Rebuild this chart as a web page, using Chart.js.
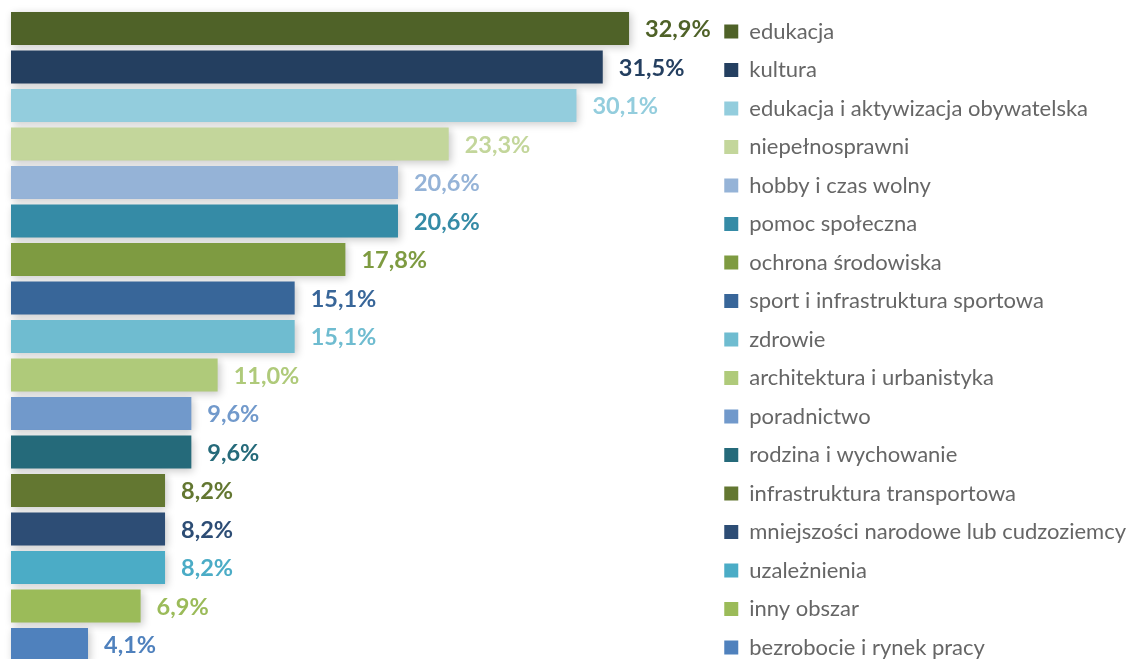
<!DOCTYPE html>
<html>
<head>
<meta charset="utf-8">
<script src="https://cdn.jsdelivr.net/npm/chart.js@4"></script>
<style>
  html, body { margin: 0; padding: 0; background: #fff; overflow: hidden; }
  #wrap { width: 1136px; height: 720px; }
</style>
</head>
<body>
<div id="wrap"><canvas id="chart" width="1136" height="720"></canvas></div>
<script>
const categories = [
    'edukacja',
    'kultura',
    'edukacja i aktywizacja obywatelska',
    'niepełnosprawni',
    'hobby i czas wolny',
    'pomoc społeczna',
    'ochrona środowiska',
    'sport i infrastruktura sportowa',
    'zdrowie',
    'architektura i urbanistyka',
    'poradnictwo',
    'rodzina i wychowanie',
    'infrastruktura transportowa',
    'mniejszości narodowe lub cudzoziemcy',
    'uzależnienia',
    'inny obszar',
    'bezrobocie i rynek pracy'
];
const values = [32.9, 31.5, 30.1, 23.3, 20.6, 20.6, 17.8, 15.1, 15.1, 11.0, 9.6, 9.6, 8.2, 8.2, 8.2, 6.9, 4.1];
const colors = [
    '#4F6228', '#243F60', '#93CDDD', '#C3D69B', '#95B3D7', '#358BA6',
    '#7E9B41', '#386699', '#6FBCD0', '#AFCA7A', '#7199CB', '#256A7A',
    '#637731', '#2D4D75', '#4BACC6', '#9BBB59', '#4F81BD'
];

const FONT = 'Lato, "Open Sans", sans-serif';

// soft shadow behind the bars
const barShadow = {
    id: 'barShadow',
    beforeDatasetsDraw(chart) {
        const ctx = chart.ctx;
        ctx.save();
        ctx.shadowColor = 'rgba(0,0,0,0.22)';
        ctx.shadowBlur = 8;
        ctx.shadowOffsetX = 2;
        ctx.shadowOffsetY = 2;
    },
    afterDatasetsDraw(chart) {
        chart.ctx.restore();
    }
};

// value labels at the end of each bar
const valueLabels = {
    id: 'valueLabels',
    afterDraw(chart) {
        const ctx = chart.ctx;
        const meta = chart.getDatasetMeta(0);
        ctx.save();
        ctx.font = 'bold 23.5px ' + FONT;
        ctx.textAlign = 'left';
        ctx.textBaseline = 'middle';
        meta.data.forEach((bar, i) => {
            ctx.fillStyle = colors[i];
            ctx.fillText(values[i].toFixed(1).replace('.', ',') + '%', bar.x + 16, bar.y + 1);
        });
        ctx.restore();
    }
};

const ctx = document.getElementById('chart').getContext('2d');
new Chart(ctx, {
    type: 'bar',
    data: {
        labels: categories,
        datasets: [{
            data: values,
            backgroundColor: colors,
            borderWidth: 0,
            barPercentage: 33 / 38.5,
            categoryPercentage: 1,
            clip: false
        }]
    },
    options: {
        indexAxis: 'y',
        responsive: false,
        animation: false,
        devicePixelRatio: 1,
        layout: { padding: { left: 11, right: 0, top: 0, bottom: 0 } },
        scales: {
            x: {
                position: 'top',
                min: 0,
                max: 37.09,
                ticks: { display: false },
                grid: { display: false },
                border: { display: false },
                afterFit: (s) => { s.height = 9.25; }
            },
            x2: {
                type: 'linear',
                position: 'bottom',
                ticks: { display: false },
                grid: { display: false },
                border: { display: false },
                afterFit: (s) => { s.height = 720 - 663.75; }
            },
            y: {
                display: false
            }
        },
        plugins: {
            tooltip: { enabled: false },
            legend: {
                position: 'right',
                align: 'start',
                title: { display: true, text: '', font: { size: 4, lineHeight: 1 }, padding: 0 },
                labels: {
                    boxWidth: 14,
                    boxHeight: 14,
                    padding: 16.5,
                    color: '#595959',
                    font: { family: FONT, size: 22 },
                    generateLabels: () => categories.map((c, i) => ({
                        text: c,
                        fillStyle: colors[i],
                        strokeStyle: colors[i],
                        lineWidth: 0,
                        hidden: false,
                        index: i
                    }))
                }
            }
        }
    },
    plugins: [barShadow, valueLabels]
});
</script>
</body>
</html>
